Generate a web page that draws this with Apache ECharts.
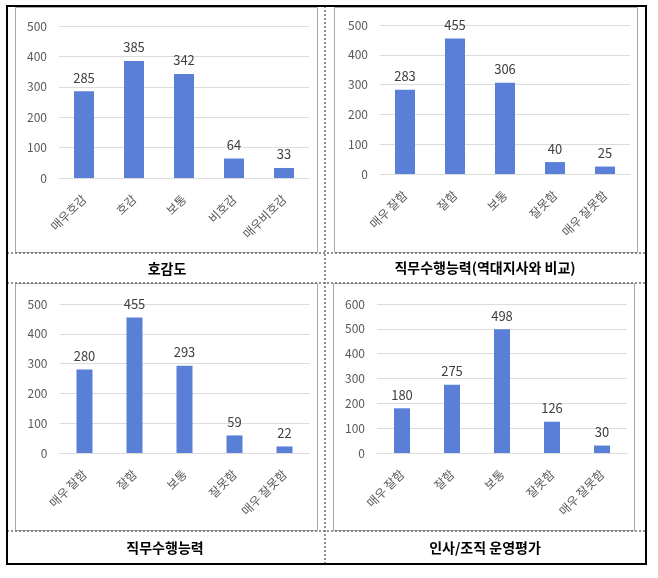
<!DOCTYPE html>
<html>
<head>
<meta charset="utf-8">
<script src="https://cdn.jsdelivr.net/npm/echarts@6/dist/echarts.min.js"></script>
<style>
html,body{margin:0;padding:0;background:#fff;}
#c{width:658px;height:578px;}
</style>
</head>
<body>
<div id="c"></div>
<script>
// ---- data ----
const cats1 = ['매우호감', '호감', '보통', '비호감', '매우비호감'];
const vals1 = [285, 385, 342, 64, 33];
const cats2 = ['매우 잘함', '잘함', '보통', '잘못함', '매우 잘못함'];
const vals2 = [283, 455, 306, 40, 25];
const cats3 = ['매우 잘함', '잘함', '보통', '잘못함', '매우 잘못함'];
const vals3 = [280, 455, 293, 59, 22];
const cats4 = ['매우 잘함', '잘함', '보통', '잘못함', '매우 잘못함'];
const vals4 = [180, 275, 498, 126, 30];
const yMax = [500, 500, 500, 600];
const captions = ['호감도', '직무수행능력(역대지사와 비교)', '직무수행능력', '인사/조직 운영평가'];

const FONT = '"Noto Sans CJK KR", "Noto Sans", sans-serif';
const BAR = '#5a7fd7';
const GRID = '#dcdcdc';

const cats = [cats1, cats2, cats3, cats4];
const vals = [vals1, vals2, vals3, vals4];
const grids = [
  {left: 59, top: 26, width: 250, height: 152},
  {left: 380, top: 25, width: 250, height: 149},
  {left: 59.5, top: 304, width: 250, height: 149},
  {left: 377, top: 304, width: 250, height: 149}
];
const barW = [20, 20, 16, 16];

const xAxis = [], yAxis = [], series = [];
for (let i = 0; i < 4; i++) {
  xAxis.push({
    type: 'category', gridIndex: i, data: cats[i],
    axisLine: {show: true, lineStyle: {color: GRID, width: 1}},
    axisTick: {show: false},
    axisLabel: {rotate: 45, interval: 0, margin: 19, color: '#595959', fontSize: 12, fontFamily: FONT}
  });
  yAxis.push({
    type: 'value', gridIndex: i, min: 0, max: yMax[i], interval: 100,
    axisLine: {show: false}, axisTick: {show: false},
    splitLine: {lineStyle: {color: GRID, width: 1}},
    axisLabel: {margin: 12, color: '#595959', fontSize: 12, fontFamily: FONT}
  });
  series.push({
    type: 'bar', xAxisIndex: i, yAxisIndex: i, data: vals[i], barWidth: barW[i],
    itemStyle: {color: BAR},
    label: {show: true, position: 'top', distance: 7, color: '#404040', fontSize: 13, fontFamily: FONT}
  });
}

const dotted = {stroke: '#6e6e6e', lineWidth: 1.5, lineDash: [2, 2]};
const box = {stroke: '#a8a8a8', lineWidth: 1, fill: null};
const graphic = [
  // chart boxes
  {type: 'rect', shape: {x: 15.5, y: 7.5, width: 302, height: 245}, style: box, silent: true},
  {type: 'rect', shape: {x: 334.5, y: 7.5, width: 303, height: 245}, style: box, silent: true},
  {type: 'rect', shape: {x: 15.5, y: 283.5, width: 302, height: 247}, style: box, silent: true},
  {type: 'rect', shape: {x: 333.5, y: 283.5, width: 301, height: 247}, style: box, silent: true},
  // dotted dividers
  {type: 'line', shape: {x1: 7, y1: 253, x2: 646, y2: 253}, style: dotted, silent: true},
  {type: 'line', shape: {x1: 7, y1: 283, x2: 646, y2: 283}, style: dotted, silent: true},
  {type: 'line', shape: {x1: 7, y1: 531, x2: 646, y2: 531}, style: dotted, silent: true},
  {type: 'line', shape: {x1: 325, y1: 6, x2: 325, y2: 564}, style: dotted, silent: true},
  // outer frame
  {type: 'rect', shape: {x: 7, y: 6, width: 639, height: 558}, style: {stroke: '#000', lineWidth: 2, fill: null}, silent: true}
];
const capPos = [[167, 269], [485, 268], [165, 548], [485, 548]];
for (let i = 0; i < 4; i++) {
  graphic.push({
    type: 'text', x: capPos[i][0], y: capPos[i][1], silent: true,
    style: {text: captions[i], fill: '#000', font: 'bold 14px ' + FONT, textAlign: 'center', textVerticalAlign: 'middle'}
  });
}

const chart = echarts.init(document.getElementById('c'), null, {renderer: 'canvas'});
chart.setOption({
  animation: false,
  backgroundColor: '#fff',
  grid: grids,
  xAxis: xAxis,
  yAxis: yAxis,
  series: series,
  graphic: graphic
});
</script>
</body>
</html>
